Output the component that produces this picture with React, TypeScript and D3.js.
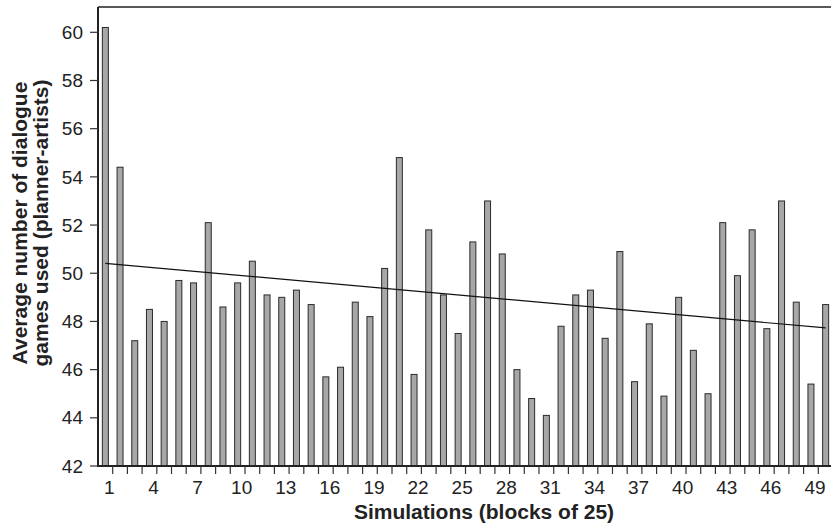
import React, { useEffect, useRef } from 'react';
import * as d3 from 'd3';

// average dialogue games per block of 25 simulations
const blocks = d3.range(1, 51);
const avgGames = [
  60.2, 54.4, 47.2, 48.5, 48.0, 49.7, 49.6, 52.1, 48.6, 49.6,
  50.5, 49.1, 49.0, 49.3, 48.7, 45.7, 46.1, 48.8, 48.2, 50.2,
  54.8, 45.8, 51.8, 49.1, 47.5, 51.3, 53.0, 50.8, 46.0, 44.8,
  44.1, 47.8, 49.1, 49.3, 47.3, 50.9, 45.5, 47.9, 44.9, 49.0,
  46.8, 45.0, 52.1, 49.9, 51.8, 47.7, 53.0, 48.8, 45.4, 48.7,
];
// linear trend, value at first and last block
const trendBlocks = [1, 50];
const trendValues = [50.41, 47.73];
const yTicks = [42, 44, 46, 48, 50, 52, 54, 56, 58, 60];
const xLabelBlocks = [1, 4, 7, 10, 13, 16, 19, 22, 25, 28, 31, 34, 37, 40, 43, 46, 49];

const W = 831;
const H = 527;
const FONT = '"Liberation Sans", Arial, sans-serif';

const App = () => {
  const svgRef = useRef<SVGSVGElement>(null);

  useEffect(() => {
    const svg = d3.select(svgRef.current);
    svg.selectAll('*').remove();

    const left = 98, top = 7, bottom = 466;
    const step = 14.7;

    const x = d3.scaleBand<number>()
      .domain(blocks)
      .range([left, left + step * blocks.length])
      .padding(0);
    const y = d3.scaleLinear().domain([42, 61.05]).range([bottom, top]);
    const barW = 6;
    const cx = (d: number) => (x(d) as number) + x.bandwidth() / 2;

    // bars
    svg.append('g')
      .selectAll('rect')
      .data(avgGames)
      .enter().append('rect')
      .attr('x', (d, i) => cx(blocks[i]) - barW / 2)
      .attr('y', d => y(d))
      .attr('width', barW)
      .attr('height', d => bottom - y(d))
      .attr('fill', '#a7a7a7')
      .attr('stroke', '#2a2a2a')
      .attr('stroke-width', 1);

    // trend line
    const line = d3.line<number>()
      .x((d, i) => cx(trendBlocks[i]))
      .y(d => y(d));
    svg.append('path')
      .attr('d', line(trendValues))
      .attr('fill', 'none')
      .attr('stroke', '#111')
      .attr('stroke-width', 1.2);

    // frame: top border, left and bottom axes
    svg.append('line')
      .attr('x1', left).attr('x2', W).attr('y1', top).attr('y2', top)
      .attr('stroke', '#222').attr('stroke-width', 1.6);
    svg.append('line')
      .attr('x1', left).attr('x2', left).attr('y1', top).attr('y2', bottom + 1)
      .attr('stroke', '#222').attr('stroke-width', 2);
    svg.append('line')
      .attr('x1', left).attr('x2', W).attr('y1', bottom).attr('y2', bottom)
      .attr('stroke', '#222').attr('stroke-width', 2);

    // y ticks
    const yg = svg.append('g');
    yg.selectAll('line')
      .data(yTicks)
      .enter().append('line')
      .attr('x1', left - 8).attr('x2', left)
      .attr('y1', d => y(d)).attr('y2', d => y(d))
      .attr('stroke', '#333').attr('stroke-width', 1.2);
    yg.selectAll('text')
      .data(yTicks)
      .enter().append('text')
      .attr('x', 83)
      .attr('y', d => y(d))
      .attr('dy', '0.35em')
      .attr('text-anchor', 'end')
      .style('font-family', FONT)
      .style('font-size', '19px')
      .attr('fill', '#222')
      .text(d => d);

    // x ticks at band boundaries
    const xg = svg.append('g');
    xg.selectAll('line')
      .data(blocks)
      .enter().append('line')
      .attr('x1', d => (x(d) as number) + x.bandwidth())
      .attr('x2', d => (x(d) as number) + x.bandwidth())
      .attr('y1', bottom).attr('y2', bottom + 8)
      .attr('stroke', '#333').attr('stroke-width', 1.2);
    xg.selectAll('text')
      .data(xLabelBlocks)
      .enter().append('text')
      .attr('x', d => cx(d) + 4)
      .attr('y', 494)
      .attr('text-anchor', 'middle')
      .style('font-family', FONT)
      .style('font-size', '19px')
      .attr('fill', '#222')
      .text(d => d);

    // axis titles
    svg.append('text')
      .attr('x', 484)
      .attr('y', 519)
      .attr('text-anchor', 'middle')
      .style('font-family', FONT)
      .style('font-size', '21px')
      .style('font-weight', 'bold')
      .attr('fill', '#222')
      .text('Simulations (blocks of 25)');

    const yTitle = svg.append('text')
      .attr('transform', 'translate(0,223) rotate(-90)')
      .attr('text-anchor', 'middle')
      .style('font-family', FONT)
      .style('font-size', '21px')
      .style('font-weight', 'bold')
      .attr('fill', '#222');
    yTitle.append('tspan').attr('x', 0).attr('y', 27).text('Average number of dialogue');
    yTitle.append('tspan').attr('x', 0).attr('y', 48).text('games used (planner-artists)');
  }, []);

  return (
    <svg
      ref={svgRef}
      width={W}
      height={H}
      style={{ position: 'absolute', left: 0, top: 0, background: '#fff' }}
    ></svg>
  );
};

export default App;
